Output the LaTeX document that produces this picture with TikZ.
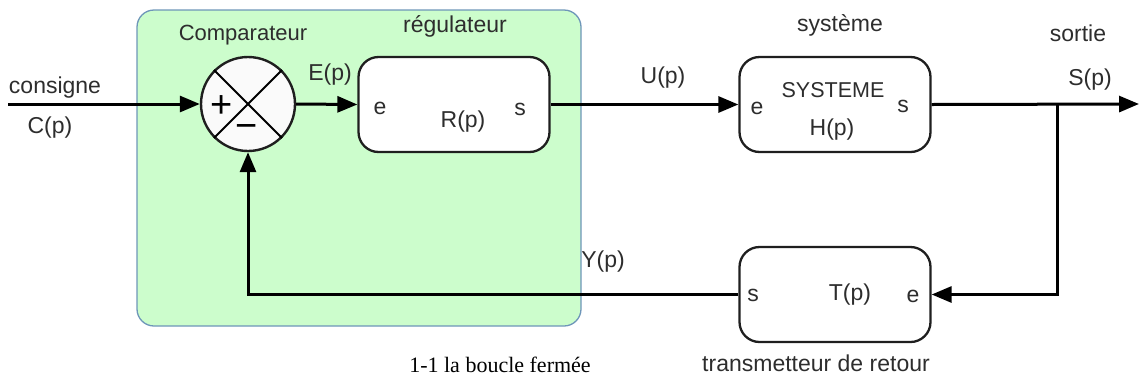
\documentclass[tikz,border=0pt]{standalone}
\usepackage{fontspec}
\newfontfamily\arial{Liberation Sans}
\newfontfamily\timesf{Liberation Serif}
\usetikzlibrary{arrows.meta}
\definecolor{zonefill}{RGB}{204,253,204}
\definecolor{zoneline}{RGB}{110,150,185}
\definecolor{txt}{RGB}{45,45,45}
\begin{document}
\begin{tikzpicture}[x=1pt,y=-1pt,
  lbl/.style={font=\arial\fontsize{23}{27}\selectfont, text=txt, inner sep=0pt, text height=16.5pt, text depth=5pt},
  blk/.style={draw=black!88, line width=2.3pt, rounded corners=20pt, fill=white, minimum width=191pt, minimum height=95pt, inner sep=0pt},
  zone/.style={draw=zoneline, fill=zonefill, line width=1.3pt, rounded corners=17pt, minimum width=444pt, minimum height=316pt, inner sep=0pt},
  sig/.style={line width=3pt, -{Triangle[length=20pt,width=16pt]}},
  sign/.style={font=\arial\fontsize{38}{42}\selectfont, inner sep=0pt, text=black}]
\useasboundingbox (0,0) rectangle (1139,381);
% green zone
\node[zone] (zone) at (359,168) {};
% comparator
\node[circle, draw=black!88, line width=2.4pt, fill=gray!4, minimum size=94pt, inner sep=0pt] (cmp) at (248,104) {};
\draw[line width=2pt] (cmp.north west) -- (cmp.south east);
\draw[line width=2pt] (cmp.north east) -- (cmp.south west);
\node[sign] (plus) at (222,107) {+};
\node[sign] (minus) at (247,131) {−};
% blocks
\node[blk] (R) at (454,104.5) {};
\node[blk] (H) at (835,104.5) {};
\node[blk] (T) at (835,294.5) {};
% block texts
\node[lbl] (Re) at (380,109) {e};
\node[lbl] (Rp) at (463,122) {R(p)};
\node[lbl] (Rs) at (520,110) {s};
\node[lbl] (He) at (757,109) {e};
\node[lbl, font=\arial\fontsize{21.5}{25}\selectfont] (Hsys) at (833,92) {SYSTEME};
\node[lbl] (Hp) at (832,130) {H(p)};
\node[lbl] (Hs) at (903,107) {s};
\node[lbl] (Ts) at (753,296) {s};
\node[lbl] (Tp) at (850,295) {T(p)};
\node[lbl] (Te) at (913,297) {e};
% labels
\node[lbl] (consigne) at (55,88) {consigne};
\node[lbl] (Cp) at (50,128) {C(p)};
\node[lbl, font=\arial\fontsize{22}{26}\selectfont] (comp) at (243,35) {Comparateur};
\node[lbl] (reg) at (455,27) {régulateur};
\node[lbl] (Ep) at (330,75) {E(p)};
\node[lbl] (Up) at (663,78) {U(p)};
\node[lbl] (sys) at (840,26) {système};
\node[lbl] (sortie) at (1078,36) {sortie};
\node[lbl] (Sp) at (1090,80) {S(p)};
\node[lbl] (Yp) at (603,262) {Y(p)};
\node[lbl] (trans) at (816,366) {transmetteur de retour};
\node[font=\timesf\fontsize{22}{25}\selectfont, inner sep=0pt] (cap) at (500,365) {1-1 la boucle fermée};
% connectors
\coordinate (in) at (8,104);
\coordinate (out) at (1139,104);
\coordinate (br) at (1057,104);
\draw[sig] (in) -- (cmp.west);
\draw[sig] (cmp.east) -- (R.west);
\draw[sig] (R.east) -- (H.west);
\draw[sig] (H.east) -- (out);
\draw[sig] (br) |- (T.east);
\draw[sig] (T.west) -| (cmp.south);
\end{tikzpicture}
\end{document}
